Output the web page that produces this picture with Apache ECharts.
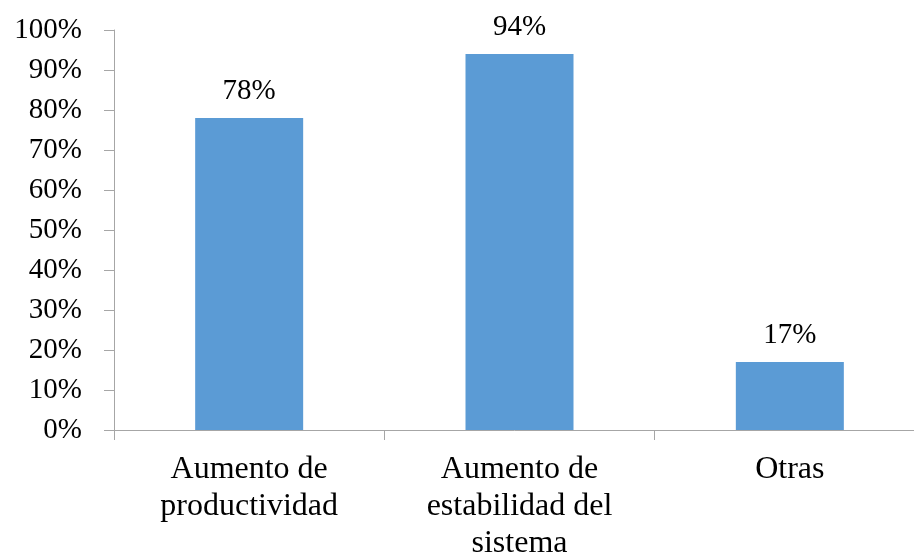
<!DOCTYPE html>
<html>
<head>
<meta charset="utf-8">
<script src="https://cdn.jsdelivr.net/npm/echarts@6/dist/echarts.min.js"></script>
<style>html,body{margin:0;padding:0;background:#fff}#c{width:914px;height:552px}</style>
</head>
<body>
<div id="c"></div>
<script>
const categories = ['Aumento de\nproductividad', 'Aumento de\nestabilidad del\nsistema', 'Otras'];
const values = [78, 94, 17];
const yTicks = [0, 10, 20, 30, 40, 50, 60, 70, 80, 90, 100];

const font = '"Liberation Serif", "Times New Roman", serif';
const chart = echarts.init(document.getElementById('c'), null, {renderer: 'canvas'});
chart.setOption({
  animation: false,
  backgroundColor: '#fff',
  grid: {left: 114, top: 30, width: 811, height: 400, containLabel: false, outerBoundsMode: 'none'},
  xAxis: {
    type: 'category',
    data: categories,
    axisLine: {lineStyle: {color: '#a6a6a6', width: 1}},
    axisTick: {show: true, length: 10, alignWithLabel: false, lineStyle: {color: '#a6a6a6'}},
    axisLabel: {color: '#000', fontFamily: font, fontSize: 32, lineHeight: 37, margin: 21, interval: 0}
  },
  yAxis: {
    type: 'value',
    min: yTicks[0],
    max: yTicks[yTicks.length - 1],
    interval: 10,
    splitLine: {show: false},
    axisLine: {show: true, lineStyle: {color: '#a6a6a6', width: 1}},
    axisTick: {show: true, length: 10, lineStyle: {color: '#a6a6a6'}},
    axisLabel: {color: '#000', fontFamily: font, fontSize: 29, margin: 32, formatter: v => v + '%'}
  },
  series: [{
    type: 'bar',
    data: values,
    barWidth: 108,
    itemStyle: {color: '#5b9bd5'},
    label: {show: true, position: 'top', distance: 12, color: '#000', fontFamily: font, fontSize: 29, formatter: p => p.value + '%'}
  }]
});
</script>
</body>
</html>
